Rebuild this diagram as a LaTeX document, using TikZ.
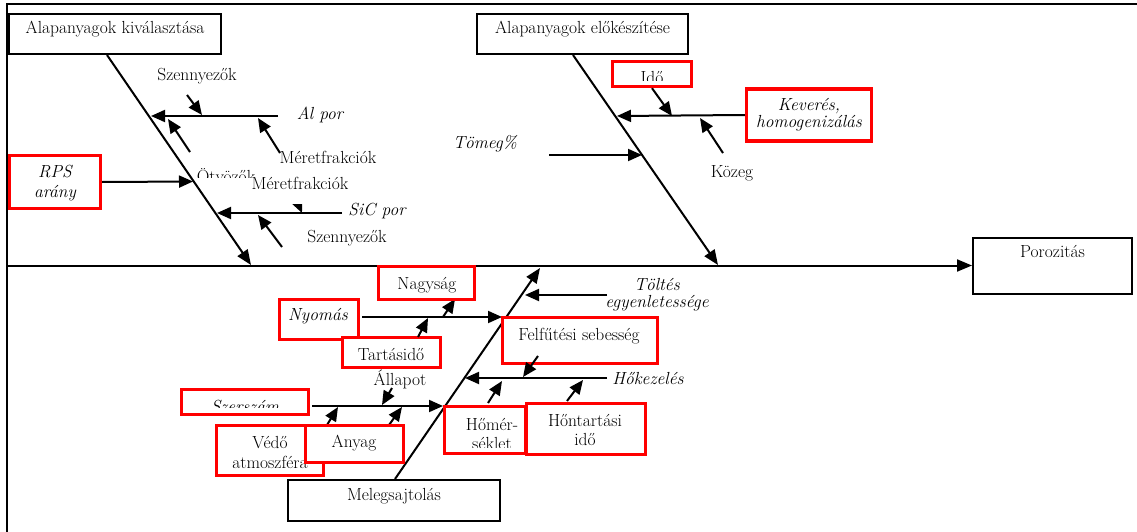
\documentclass[tikz,border=0pt]{standalone}
\usepackage{fontspec}
\usetikzlibrary{arrows.meta}
\newcommand{\fs}{\fontsize{17.5}{19}\selectfont}
\begin{document}
\begin{tikzpicture}[x=1pt,y=-1pt,
  bone/.style={line width=2pt,-{Triangle[length=15pt,width=12pt]}},
  arr/.style={line width=2pt,-{Triangle[length=14pt,width=12pt]}},
  frame/.style={line width=2.2pt},
  bbox/.style={draw=black,line width=2pt,fill=white,inner sep=0pt},
  rbox/.style={draw=red,line width=3.4pt,fill=white,inner sep=0pt},
  txt/.style={font=\fs,inner sep=0pt,anchor=base},
  itxt/.style={font=\fs\itshape,inner sep=0pt,anchor=base},
  ]
\useasboundingbox (0,0) rectangle (1137,532);

% frame
\coordinate (fBL) at (7,532);
\coordinate (fTL) at (7,4);
\coordinate (fTR) at (1137,4);
\draw[frame] (fBL) -- (fTL) -- (fTR);

% spine and bones
\coordinate (sp0) at (7,265.5);
\coordinate (b1s) at (107,55);  \coordinate (b1e) at (251,265);
\coordinate (b2s) at (573,55);  \coordinate (b2e) at (718,265);
\coordinate (b3s) at (395,479); \coordinate (b3e) at (540,268);

\node[bbox,minimum width=159pt,minimum height=56pt] (poro) at (1052.5,265.5) {};
\draw[bone] (sp0) -- (poro.west);
\draw[bone] (b1s) -- (b1e);
\draw[bone] (b2s) -- (b2e);
\draw[bone] (b3s) -- (b3e);

% ---------- branch coordinates: top left ----------
\coordinate (alA) at (278,116);   \coordinate (alB) at (151,116);
\coordinate (sz1A) at (187,95);   \coordinate (sz1B) at (202,115);
\coordinate (mf1A) at (280,153);  \coordinate (mf1B) at (258,118);
\coordinate (otA) at (190,152);   \coordinate (otB) at (168,119);
\coordinate (rpsB) at (193,181.5);
\coordinate (sicA) at (342,213);  \coordinate (sicB) at (217,213);
\coordinate (mf2A) at (290,185);  \coordinate (mf2B) at (302,213);
\coordinate (sz2A) at (282,247);  \coordinate (sz2B) at (258,215);

\draw[arr] (alA) -- (alB);
\draw[arr] (sz1A) -- (sz1B);
\draw[arr] (mf1A) -- (mf1B);
\draw[arr] (otA) -- (otB);
\draw[arr] (sicA) -- (sicB);
\draw[arr] (sz2A) -- (sz2B);
\begin{scope}
  \clip (280,204) rectangle (315,222);
  \draw[arr] (mf2A) -- (mf2B);
\end{scope}

% ---------- top right ----------
\coordinate (kevB) at (617,116);
\coordinate (idoB) at (672,116);
\coordinate (kozA) at (723,153);  \coordinate (kozB) at (700,118);
\coordinate (tomA) at (549,155);  \coordinate (tomB) at (642,155);
\draw[arr] (kozA) -- (kozB);
\draw[arr] (tomA) -- (tomB);

% ---------- bottom ----------
\coordinate (tolA) at (607,295);  \coordinate (tolB) at (525,295);
\coordinate (nyoA) at (362,317);  \coordinate (nyoB) at (502,317);
\coordinate (nagA) at (443,317);  \coordinate (nagB) at (455,299);
\coordinate (tarA) at (418,337);  \coordinate (tarB) at (428,318);
\coordinate (allA) at (392,388);  \coordinate (allB) at (382,405);
\coordinate (szeA) at (312,406);  \coordinate (szeB) at (443,406);
\coordinate (vedA) at (327,425);  \coordinate (vedB) at (338,407);
\coordinate (anyA) at (389,425);  \coordinate (anyB) at (402,407);
\coordinate (hokA) at (607,378);  \coordinate (hokB) at (465,378);
\coordinate (felA) at (538,356);  \coordinate (felB) at (523,377);
\coordinate (homA) at (488,403);  \coordinate (homB) at (502,381);
\coordinate (hntA) at (567,401);  \coordinate (hntB) at (583,380);

\draw[arr] (tolA) -- (tolB);
\draw[arr] (nyoA) -- (nyoB);
\draw[arr] (nagA) -- (nagB);
\draw[arr] (allA) -- (allB);
\draw[arr] (szeA) -- (szeB);
\draw[arr] (vedA) -- (vedB);
\draw[arr] (anyA) -- (anyB);
\draw[arr] (hokA) -- (hokB);
\draw[arr] (homA) -- (homB);
\draw[arr] (hntA) -- (hntB);

% ---------- boxes ----------
\node[bbox,minimum width=212pt,minimum height=40pt] (kiv) at (115,34) {};
\node[txt] (kivT) at (115,33.5) {Alapanyagok kiválasztása};
\node[bbox,minimum width=211pt,minimum height=40pt] (elo) at (582.5,34) {};
\node[txt] (eloT) at (582.5,33.5) {Alapanyagok előkészítése};
\node[txt] (poroT) at (1052.5,257) {Porozitás};
\node[bbox,minimum width=212pt,minimum height=41pt] (meleg) at (394,500.5) {};
\node[txt] (melegT) at (394,500) {Melegsajtolás};

% RPS
\node[rbox,minimum width=91pt,minimum height=53pt] (rps) at (55,182) {};
\draw[arr] (rps.east) -- (rpsB);
\node[itxt] (rpsT1) at (55,177) {RPS};
\node[itxt] (rpsT2) at (55,197) {arány};

% Idő
\node[rbox,minimum width=79pt,minimum height=25pt] (ido) at (652,74) {};
\draw[arr] (ido.south) -- (idoB);
\begin{scope}
  \clip (614,62) rectangle (690,81);
  \node[txt] (idoT) at (652,84) {Idő};
\end{scope}

% Keverés
\node[rbox,minimum width=125pt,minimum height=52pt] (kev) at (809,115) {};
\draw[arr] (kev.west) -- (kevB);
\node[itxt] (kevT1) at (809,111) {Keverés,};
\node[itxt] (kevT2) at (809,128) {homogenizálás};

% Nagyság
\node[rbox,minimum width=96pt,minimum height=33pt] (nag) at (426.5,283) {};
\node[txt] (nagT) at (427,289) {Nagyság};

% Nyomás
\node[rbox,minimum width=79pt,minimum height=40pt] (nyo) at (319,319.5) {};
\node[itxt] (nyoT) at (318,320) {Nyomás};

% Tartásidő
\node[rbox,minimum width=98pt,minimum height=30pt] (tar) at (391.5,352.5) {};
\draw[arr] (tarA) -- (tarB);
\node[txt] (tarT) at (391,360) {Tartásidő};

% Szerszám
\node[rbox,minimum width=127pt,minimum height=25pt] (sze) at (245,402) {};
\begin{scope}
  \clip (183,391) rectangle (307,407);
  \node[itxt] (szeT) at (245,412) {Szerszám};
\end{scope}

% Védő atmoszféra
\node[rbox,minimum width=107pt,minimum height=50pt] (ved) at (270,450.5) {};
\node[txt] (vedT1) at (270,448) {Védő};
\node[txt] (vedT2) at (270,468) {atmoszféra};

% Anyag
\node[rbox,minimum width=98pt,minimum height=37pt] (any) at (354.5,444) {};
\node[txt] (anyT) at (354,447) {Anyag};

% Felfűtési sebesség
\node[rbox,minimum width=155pt,minimum height=46pt] (fel) at (580,340.5) {};
\node[txt] (felT) at (579,340) {Felfűtési sebesség};
\draw[arr] (felA) -- (felB);

% Hőmérséklet
\node[rbox,minimum width=81pt,minimum height=47pt] (hom) at (485,430) {};
\begin{scope}
  \clip (446,408) rectangle (524,447);
  \node[txt] (homT1) at (492,430) {Hőmér-};
  \node[txt] (homT2) at (492,449) {séklet};
\end{scope}

% Hőntartási idő
\node[rbox,minimum width=119pt,minimum height=51pt] (hnt) at (586,429) {};
\node[txt] (hntT1) at (585,426) {Hőntartási};
\node[txt] (hntT2) at (585,445) {idő};

% ---------- free labels ----------
\node[txt] (sz1) at (197,80.5) {Szennyezők};
\node[itxt] (al) at (320,120) {Al por};
\node[txt] (mf1) at (328,163) {Méretfrakciók};
\begin{scope}
  \clip (195,158) rectangle (262,177);
  \node[txt] (ot) at (226,182) {Ötvözők};
\end{scope}
\node[txt] (mf2) at (300,189) {Méretfrakciók};
\node[itxt] (sic) at (377,215) {SiC por};
\node[txt] (sz2) at (347,242) {Szennyezők};
\node[itxt] (tom) at (485,149) {Tömeg\%};
\node[txt] (koz) at (732,177) {Közeg};
\node[itxt] (tol1) at (657,290) {Töltés};
\node[itxt] (tol2) at (657,307) {egyenletessége};
\node[txt] (all) at (400,385) {Állapot};
\node[itxt] (hok) at (648,384) {Hőkezelés};
\end{tikzpicture}
\end{document}
